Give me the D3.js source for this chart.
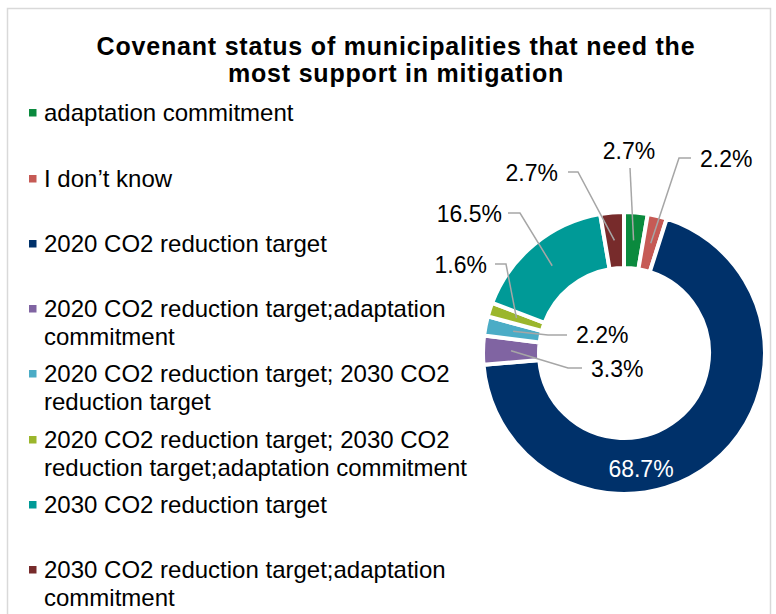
<!DOCTYPE html>
<html>
<head>
<meta charset="utf-8">
<script src="https://cdn.jsdelivr.net/npm/d3@7"></script>
<style>
  html, body { margin: 0; padding: 0; background: #fff; }
  svg { display: block; font-family: "Liberation Sans", Arial, sans-serif; }
</style>
</head>
<body>
<svg id="chart" width="776" height="614"></svg>
<script>
// Covenant status categories, in drawing order (clockwise from 12 o'clock)
const categories = [
  "adaptation commitment",
  "I don\u2019t know",
  "2020 CO2 reduction target",
  "2020 CO2 reduction target;adaptation commitment",
  "2020 CO2 reduction target; 2030 CO2 reduction target",
  "2020 CO2 reduction target; 2030 CO2 reduction target;adaptation commitment",
  "2030 CO2 reduction target",
  "2030 CO2 reduction target;adaptation commitment"
];
// Share of municipalities (%)
const shares = [2.7, 2.2, 68.7, 3.3, 2.2, 1.6, 16.5, 2.7];
// Legend text split into lines
const legendLines = [
  ["adaptation commitment"],
  ["I don\u2019t know"],
  ["2020 CO2 reduction target"],
  ["2020 CO2 reduction target;adaptation", "commitment"],
  ["2020 CO2 reduction target; 2030 CO2", "reduction target"],
  ["2020 CO2 reduction target; 2030 CO2", "reduction target;adaptation commitment"],
  ["2030 CO2 reduction target"],
  ["2030 CO2 reduction target;adaptation", "commitment"]
];
const colors = ["#0B8A3E", "#C65A55", "#00316A", "#8064A2", "#4BACC6", "#9BB62C", "#009A97", "#772B2B"];

// Label placement relative to the donut centre: text anchor point and leader-line points
const labelLayout = [
  { dx: 5,    dy: -194, anchor: "middle", line: [[6, -185]] },
  { dx: 76,   dy: -186, anchor: "start",  line: [[67, -195], [55, -195]] },
  { dx: 17,   dy: 124,  anchor: "middle", line: null, fill: "#fff" },
  { dx: -33,  dy: 24,   anchor: "start",  line: [[-42, 15], [-56, 15]] },
  { dx: -48,  dy: -10,  anchor: "start",  line: [[-57, -18], [-76, -18]] },
  { dx: -137, dy: -80,  anchor: "end",    line: [[-129, -89], [-118, -89]] },
  { dx: -122, dy: -131, anchor: "end",    line: [[-116, -140], [-104, -140]] },
  { dx: -66,  dy: -172, anchor: "end",    line: [[-56, -181], [-46, -181]] }
];

const svg = d3.select("#chart");

// outer frame
svg.append("rect")
  .attr("x", 7.5).attr("y", 8.5)
  .attr("width", 763).attr("height", 620)
  .attr("fill", "none").attr("stroke", "#D9D9D9").attr("stroke-width", 1.5);

// title
const title = svg.append("text")
  .attr("text-anchor", "middle")
  .attr("font-weight", "bold")
  .attr("font-size", 25)
  .attr("letter-spacing", 0.8)
  .attr("fill", "#000");
title.append("tspan").attr("x", 396).attr("y", 55).text("Covenant status of municipalities that need the");
title.append("tspan").attr("x", 396).attr("y", 82).text("most support in mitigation");

// legend
const legendTop = [121, 187, 252, 317, 382, 448, 513, 578];
const legend = svg.append("g");
categories.forEach((c, i) => {
  const g = legend.append("g");
  g.append("rect")
    .attr("x", 29).attr("y", legendTop[i] - 12)
    .attr("width", 7.5).attr("height", 7.5)
    .attr("fill", colors[i]);
  const t = g.append("text")
    .attr("font-size", 24)
    .attr("fill", "#000");
  legendLines[i].forEach((ln, j) => {
    t.append("tspan").attr("x", 44).attr("y", legendTop[i] + j * 27.5).text(ln);
  });
});

// donut
const cx = 624, cy = 353;
const outerR = 141, innerR = 85;
const pie = d3.pie().sort(null).value(d => d);
const arcs = pie(shares);
const arc = d3.arc().innerRadius(innerR).outerRadius(outerR);
const midArc = d3.arc().innerRadius(113).outerRadius(113);

const donut = svg.append("g").attr("transform", `translate(${cx},${cy})`);
donut.selectAll("path.slice")
  .data(arcs)
  .join("path")
  .attr("class", "slice")
  .attr("d", arc)
  .attr("fill", (d, i) => colors[i])
  .attr("stroke", "#fff")
  .attr("stroke-width", 4)
  .attr("stroke-linejoin", "miter");

// leader lines
donut.selectAll("path.leader")
  .data(arcs.filter((d, i) => labelLayout[i].line))
  .join("path")
  .attr("class", "leader")
  .attr("d", d => {
    const pts = labelLayout[d.index].line.concat([midArc.centroid(d)]);
    return d3.line()(pts);
  })
  .attr("fill", "none")
  .attr("stroke", "#A6A6A6")
  .attr("stroke-width", 1.5);

// value labels
donut.selectAll("text.val")
  .data(arcs)
  .join("text")
  .attr("class", "val")
  .attr("x", (d, i) => labelLayout[i].dx)
  .attr("y", (d, i) => labelLayout[i].dy)
  .attr("text-anchor", (d, i) => labelLayout[i].anchor)
  .attr("font-size", 23)
  .attr("fill", (d, i) => labelLayout[i].fill || "#000")
  .text(d => d3.format(".1f")(d.data) + "%");
</script>
</body>
</html>
